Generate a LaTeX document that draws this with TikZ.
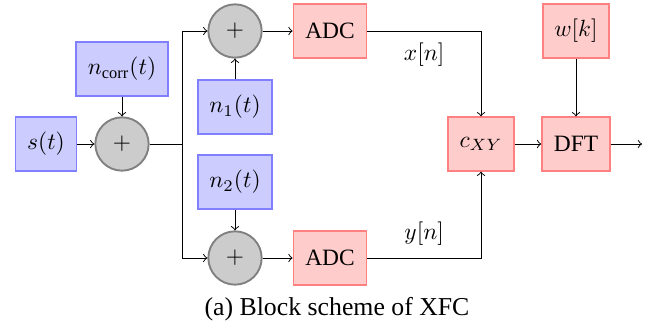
\documentclass[tikz,border=0pt]{standalone}
\usepackage[no-math]{fontspec}
\setmainfont{Liberation Serif}
\usepackage{amsmath}

\begin{document}
\begin{tikzpicture}[>=to,
	srcblk/.style={draw=blue!50, fill=blue!20, thick, minimum height=0.8cm, inner xsep=5pt},
	dspblk/.style={draw=red!50, fill=red!20, thick, minimum height=0.8cm, inner xsep=5pt},
	sumnode/.style={draw=gray, fill=gray!40, thick, circle, minimum size=0.8cm, inner sep=0pt}]
			\useasboundingbox (0,0) rectangle (9.9,4.845);
			\node[srcblk] (s) at (0.69,2.685) {$s(t)$};
			\node[sumnode] (sum0) at (1.83,2.685) {$+$};
			\node[srcblk] (ncorr) at (1.83,3.81) {$n_{\text{corr}}(t)$};
			\coordinate (split) at (2.73,2.685);
			\node[sumnode] (sum1) at (3.525,4.38) {$+$};
			\node[srcblk] (n1) at (3.525,3.24) {$n_1(t)$};
			\node[srcblk] (n2) at (3.525,2.115) {$n_2(t)$};
			\node[sumnode] (sum2) at (3.525,0.975) {$+$};
			\node[dspblk] (adc1) at (4.95,4.38) {ADC};
			\node[dspblk] (adc2) at (4.95,0.975) {ADC};
			\node[dspblk] (cxy) at (7.215,2.685) {$c_{XY}$};
			\node[dspblk] (dft) at (8.64,2.685) {DFT};
			\node[dspblk] (wk) at (8.64,4.38) {$w[k]$};
			\coordinate (out) at (9.63,2.685);
			\node[font=\fontsize{11}{13}\selectfont] (cap) at (5.055,0.2) {(a) Block scheme of XFC};
			\draw[->] (s)--(sum0);
			\draw[->] (ncorr)--(sum0);
			\draw (sum0)--(split);
			\draw[->] (split)|-(sum1);
			\draw[->] (split)|-(sum2);
			\draw[->] (n1)--(sum1);
			\draw[->] (n2)--(sum2);
			\draw[->] (sum1)--(adc1);
			\draw[->] (sum2)--(adc2);
			\draw[->] (adc1)-|(cxy) node[pos=0.25, below, inner sep=5pt] (xn) {$x[n]$};
			\draw[->] (adc2)-|(cxy) node[pos=0.25, above, inner sep=5pt] (yn) {$y[n]$};
			\draw[->] (cxy)--(dft);
			\draw[->] (wk)--(dft);
			\draw[->] (dft)--(out);
		\end{tikzpicture}
\end{document}
